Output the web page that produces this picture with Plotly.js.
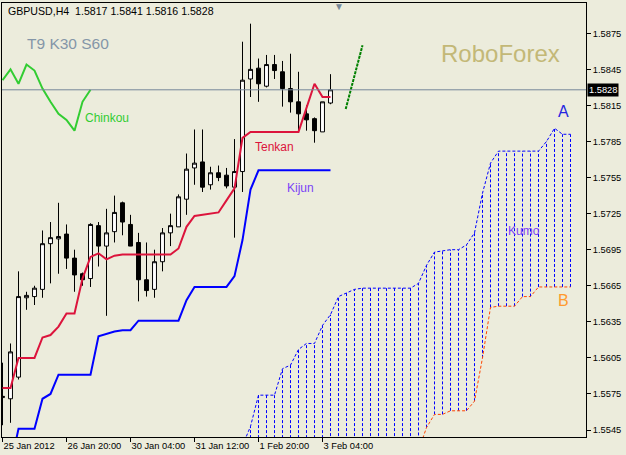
<!DOCTYPE html>
<html><head><meta charset="utf-8">
<script src="https://cdn.plot.ly/plotly-3.0.1.min.js"></script>
<style>html,body{margin:0;padding:0;background:#ECECDC;}#chart{width:626px;height:455px;}</style>
</head><body><div id="chart"></div>
<script>
// ---- data (GBPUSD H4, bars from 25 Jan 2012 12:00) ----
const openP  = [1.5572,1.5571,1.5589,1.5655,1.5656,1.5662,1.5700,1.5704,1.5708,1.5688,1.5675,1.5671,1.5715,1.5698,1.5710,1.5734,1.5716,1.5701,1.5670,1.5662,1.5685,1.5709,1.5714,1.5737,1.5763,1.5768,1.5749,1.5759,1.5757,1.5747,1.5760,1.5837,1.5846,1.5831,1.5849,1.5843,1.5829,1.5818,1.5808,1.5804,1.5793,1.5817];
const highP  = [1.5601,1.5617,1.5677,1.5660,1.5665,1.5711,1.5718,1.5734,1.5716,1.5695,1.5676,1.5717,1.5718,1.5729,1.5740,1.5735,1.5724,1.5709,1.5701,1.5695,1.5713,1.5725,1.5741,1.5775,1.5795,1.5795,1.5764,1.5765,1.5763,1.5787,1.5868,1.5883,1.5854,1.5857,1.5857,1.5852,1.5858,1.5843,1.5815,1.5805,1.5818,1.5841];
const lowP   = [1.5549,1.5551,1.5587,1.5645,1.5649,1.5655,1.5667,1.5675,1.5679,1.5660,1.5665,1.5664,1.5681,1.5640,1.5701,1.5707,1.5701,1.5652,1.5656,1.5655,1.5677,1.5698,1.5714,1.5724,1.5749,1.5743,1.5745,1.5752,1.5746,1.5705,1.5743,1.5822,1.5818,1.5830,1.5837,1.5814,1.5809,1.5793,1.5794,1.5784,1.5793,1.5816];
const closeP = [1.5573,1.5610,1.5656,1.5657,1.5663,1.5700,1.5705,1.5706,1.5688,1.5674,1.5670,1.5716,1.5698,1.5709,1.5726,1.5718,1.5698,1.5670,1.5661,1.5685,1.5709,1.5715,1.5739,1.5762,1.5767,1.5747,1.5759,1.5755,1.5748,1.5760,1.5836,1.5845,1.5833,1.5849,1.5844,1.5829,1.5818,1.5808,1.5803,1.5794,1.5818,1.5828];
const tenkan = [1.5580,1.5580,1.5605,1.5605,1.5605,1.5622,1.5624,1.5631,1.5642,1.5642,1.5671,1.5689,1.5692,1.5687,1.5690,1.5691,1.5691,1.5691,1.5691,1.5691,1.5691,1.5691,1.5696,1.5714,1.5723,1.5724,1.5725,1.5726,1.5736,1.5746,1.5788,1.5793,1.5793,1.5793,1.5793,1.5793,1.5793,1.5793,1.5813,1.5833,1.5822,1.5822];
const kijun  = [1.5484,1.5516,1.5546,1.5546,1.5546,1.5571,1.5575,1.5591,1.5591,1.5591,1.5591,1.5591,1.5623,1.5625,1.5627,1.5628,1.5628,1.5636,1.5636,1.5636,1.5636,1.5636,1.5636,1.5653,1.5664,1.5664,1.5664,1.5664,1.5664,1.5673,1.5703,1.5745,1.5761,1.5761,1.5761,1.5761,1.5761,1.5761,1.5761,1.5761,1.5761,1.5761];
// Senkou spans, plotted 30 bars ahead
const senkouA = [1.5532,1.5548,1.5574,1.5574,1.5574,1.5596,1.5599,1.5612,1.5617,1.5617,1.5632,1.5641,1.5656,1.5659,1.5662,1.5663,1.5663,1.5663,1.5663,1.5663,1.5663,1.5663,1.5667,1.5682,1.5693,1.5694,1.5695,1.5695,1.5699,1.5709,1.5742,1.5767,1.5777,1.5777,1.5777,1.5777,1.5777,1.5777,1.5785,1.5796,1.5791,1.5791];
const senkouB = [1.5505,1.5505,1.5505,1.5505,1.5505,1.5505,1.5505,1.5505,1.5505,1.5505,1.5505,1.5515,1.5515,1.5515,1.5515,1.5515,1.5515,1.5515,1.5515,1.5515,1.5515,1.5515,1.5528,1.5547,1.5558,1.5558,1.5561,1.5561,1.5561,1.5569,1.5605,1.5647,1.5648,1.5648,1.5648,1.5656,1.5656,1.5664,1.5664,1.5664,1.5664,1.5664];
const shiftBars = 30;
const trendX = [42.9, 45.0];
const trendY = [1.5812, 1.5865];
const tickIdx = [0, 8, 16, 24, 32, 40];
const tickLabels = ['25 Jan 2012', '26 Jan 20:00', '30 Jan 04:00', '31 Jan 12:00', '1 Feb 20:00', '3 Feb 04:00'];
const yTicks = [1.5545,1.5575,1.5605,1.5635,1.5665,1.5695,1.5725,1.5755,1.5785,1.5815,1.5845,1.5875];

// ---- build ----
const barIdx = closeP.map((_, i) => i);
const cloudIdx = senkouA.map((_, k) => k + shiftBars);
const chinkouX = closeP.slice(shiftBars).map((_, k) => k);
const chinkouY = closeP.slice(shiftBars);
const hx = [], hy = [];
cloudIdx.forEach((x, k) => { hx.push(x, x, null); hy.push(senkouB[k], senkouA[k], null); });
const last = closeP.length - 1;

const traces = [
  {type:'scatter', mode:'lines', x:hx, y:hy, line:{color:'#0000FF', width:1, dash:'3px,2px'}, hoverinfo:'skip'},
  {type:'scatter', mode:'lines', x:cloudIdx, y:senkouA, line:{color:'#0000FF', width:1, dash:'3px,2px'}},
  {type:'scatter', mode:'lines', x:cloudIdx, y:senkouB, line:{color:'#FF4500', width:1, dash:'3px,2px'}},
  {type:'candlestick', x:barIdx, open:openP, high:highP, low:lowP, close:closeP, whiskerwidth:0,
   increasing:{line:{color:'#000000', width:1}, fillcolor:'#FFFFFF'},
   decreasing:{line:{color:'#000000', width:1}, fillcolor:'#000000'}},
  {type:'scatter', mode:'lines', x:barIdx, y:kijun, line:{color:'#0000FF', width:2}},
  {type:'scatter', mode:'lines', x:barIdx, y:tenkan, line:{color:'#DC143C', width:2}},
  {type:'scatter', mode:'lines', x:chinkouX, y:chinkouY, line:{color:'#32CD32', width:2}},
  {type:'scatter', mode:'lines', x:trendX, y:trendY, line:{color:'#008000', width:2, dash:'3px,1px'}}
];

const px = v => (v - 2) / 584, py = v => (437 - v) / 434;
const ann = (text, x, y, size, color, extra) => Object.assign({text, xref:'paper', yref:'paper', x:px(x), y:py(y), xanchor:'left', yanchor:'middle', showarrow:false, font:{size, color}}, extra || {});
const f4 = v => v.toFixed(4);

const layout = {
  width:626, height:455,
  margin:{l:2, r:40, t:3, b:18},
  paper_bgcolor:'#ECECDC', plot_bgcolor:'#ECECDC',
  showlegend:false,
  font:{family:'"Liberation Sans", Arial, sans-serif', size:9.3, color:'#000'},
  xaxis:{range:[-0.0625, 72.9375], tickmode:'array', tickvals:tickIdx, ticktext:tickLabels,
    ticks:'outside', ticklen:4, tickcolor:'#000', showgrid:false, zeroline:false,
    showline:true, linecolor:'#000', linewidth:1, mirror:true, rangeslider:{visible:false},
    ticklabelposition:'outside right', tickfont:{size:9.3, color:'#000'}},
  yaxis:{range:[1.55392, 1.59002], side:'right', tickmode:'array', tickvals:yTicks, tickformat:'.4f',
    ticks:'outside', ticklen:4, tickcolor:'#000', showgrid:false, zeroline:false,
    showline:true, linecolor:'#000', linewidth:1, mirror:true, tickfont:{size:9.3, color:'#000'}},
  shapes:[{type:'line', xref:'paper', x0:0, x1:1, yref:'y', y0:closeP[last], y1:closeP[last], line:{color:'#778899', width:1}}],
  annotations:[
    ann('GBPUSD,H4\u00a0\u00a0' + [openP[last], highP[last], lowP[last], closeP[last]].map(f4).join(' '), 6, 11, 10.6, '#000'),
    ann('T9 K30 S60', 25, 43, 15.5, '#8496A8'),
    ann('RoboForex', 439, 54, 24, '#C3B877'),
    ann('Chinkou', 83, 118, 12, '#32CD32'),
    ann('Tenkan', 253, 147, 12, '#DC143C'),
    ann('Kijun', 285, 188.5, 12, '#7B42F6'),
    ann('Kumo', 505.5, 230.5, 12, '#7B42F6'),
    ann('A', 556, 112, 16, '#2525E0'),
    ann('B', 556, 300.5, 16, '#FF9A2E'),
    ann('\u25BC', 339, 7, 10, '#778899', {xanchor:'center'}),
    {text:f4(closeP[last]), xref:'paper', x:1, xanchor:'left', xshift:1, yref:'y', y:closeP[last], yanchor:'middle',
     showarrow:false, bgcolor:'#000', borderpad:1, font:{size:9.3, color:'#fff'}}
  ]
};
Plotly.newPlot('chart', traces, layout, {staticPlot:true, displayModeBar:false});
</script></body></html>
